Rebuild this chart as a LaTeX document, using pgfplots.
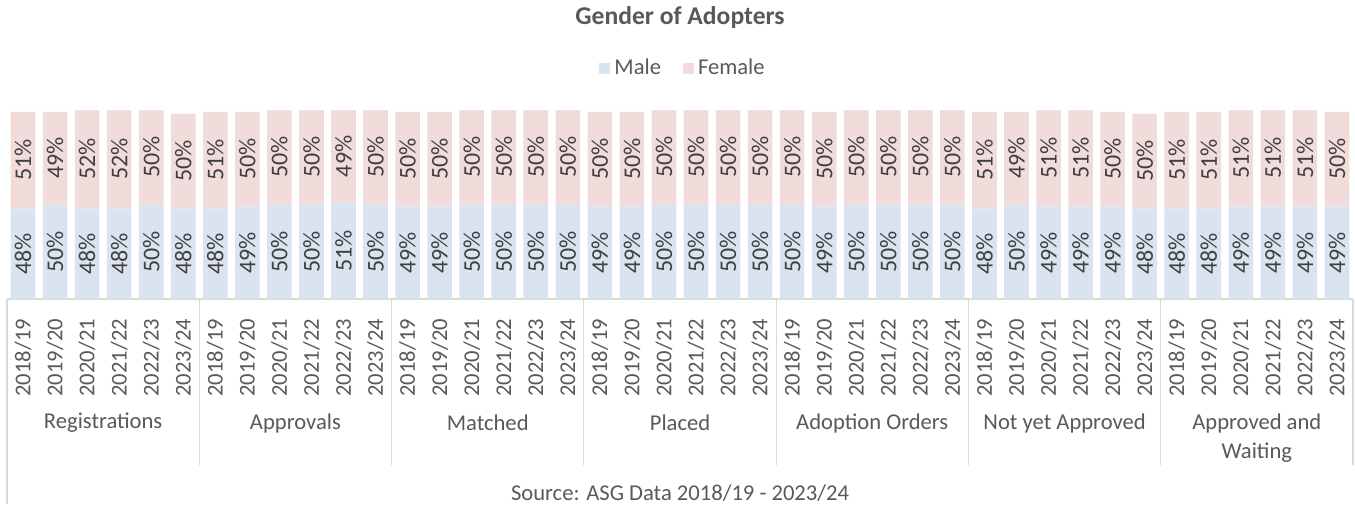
\documentclass[border=0pt]{standalone}
\usepackage{pgfplots}
\pgfplotsset{compat=1.18}
\usepackage{fontspec}
\setmainfont{Carlito}
\definecolor{male}{HTML}{DAE3F0}
\definecolor{female}{HTML}{F2DCDB}
\definecolor{txt}{HTML}{595959}
\definecolor{lbl}{HTML}{404040}
\definecolor{rule}{HTML}{D9D9D9}

\newcommand\lab{\fontsize{11.3}{14.5}\selectfont}
\newcommand\dlab{\fontsize{12}{14.5}\selectfont}

\begin{document}
\begin{tikzpicture}
\path[use as bounding box] (-3.5pt,-102.5pt) rectangle (674pt,149.5pt);
\begin{axis}[
  scale only axis, width=673pt, height=94.5pt,
  xmin=-0.5, xmax=41.5, ymin=0, ymax=100,
  enlargelimits=false, clip=false,
  ybar stacked, bar width=12.3pt,
  axis x line=bottom, axis y line=none,
  axis line style={draw=rule, line width=0.6pt, -},
  xtick=data, major tick length=0pt,
  xticklabels={2018/19,2019/20,2020/21,2021/22,2022/23,2023/24,
               2018/19,2019/20,2020/21,2021/22,2022/23,2023/24,
               2018/19,2019/20,2020/21,2021/22,2022/23,2023/24,
               2018/19,2019/20,2020/21,2021/22,2022/23,2023/24,
               2018/19,2019/20,2020/21,2021/22,2022/23,2023/24,
               2018/19,2019/20,2020/21,2021/22,2022/23,2023/24,
               2018/19,2019/20,2020/21,2021/22,2022/23,2023/24},
  xticklabel style={rotate=90, anchor=east, font=\lab, text=txt},
  xticklabel shift=6.5pt,
  visualization depends on={rawy \as \rawy},
  nodes near coords={\pgfmathprintnumber[fixed,precision=0,assume math mode=true]{\rawy}\%},
  every node near coord/.append style={anchor=center, rotate=90, font=\dlab, text=lbl},
  legend style={at={(axis description cs:0.503,1.222)}, anchor=center,
    draw=none, fill=none, font=\lab, text=txt, legend columns=-1,
    /tikz/every even column/.append style={column sep=9pt}},
  legend image code/.code={\fill[#1] (0pt,-2.75pt) rectangle (5.5pt,2.75pt);},
]
% Male
\addplot[fill=male, draw=none] coordinates {
 (0,48) (1,50) (2,48) (3,48) (4,50) (5,48)
 (6,48) (7,49) (8,50) (9,50) (10,51) (11,50)
 (12,49) (13,49) (14,50) (15,50) (16,50) (17,50)
 (18,49) (19,49) (20,50) (21,50) (22,50) (23,50)
 (24,50) (25,49) (26,50) (27,50) (28,50) (29,50)
 (30,48) (31,50) (32,49) (33,49) (34,49) (35,48)
 (36,48) (37,48) (38,49) (39,49) (40,49) (41,49)
};
% Female
\addplot[fill=female, draw=none] coordinates {
 (0,51) (1,49) (2,52) (3,52) (4,50) (5,50)
 (6,51) (7,50) (8,50) (9,50) (10,49) (11,50)
 (12,50) (13,50) (14,50) (15,50) (16,50) (17,50)
 (18,50) (19,50) (20,50) (21,50) (22,50) (23,50)
 (24,50) (25,50) (26,50) (27,50) (28,50) (29,50)
 (30,51) (31,49) (32,51) (33,51) (34,50) (35,50)
 (36,51) (37,51) (38,51) (39,51) (40,51) (41,50)
};
\legend{Male,Female}

% category box
\draw[rule, line width=0.6pt] (axis cs:-0.5,0) -- ++(0pt,-102.5pt);
\draw[rule, line width=0.6pt] (axis cs:5.5,0) -- ++(0pt,-83pt);
\draw[rule, line width=0.6pt] (axis cs:11.5,0) -- ++(0pt,-83pt);
\draw[rule, line width=0.6pt] (axis cs:17.5,0) -- ++(0pt,-83pt);
\draw[rule, line width=0.6pt] (axis cs:23.5,0) -- ++(0pt,-83pt);
\draw[rule, line width=0.6pt] (axis cs:29.5,0) -- ++(0pt,-83pt);
\draw[rule, line width=0.6pt] (axis cs:35.5,0) -- ++(0pt,-83pt);
\draw[rule, line width=0.6pt] (axis cs:41.5,0) -- ++(0pt,-83pt);
\node[font=\lab, text=txt] at ([yshift=-62pt]axis cs:2.5,0) {Registrations};
\node[font=\lab, text=txt] at ([yshift=-62pt]axis cs:8.5,0) {Approvals};
\node[font=\lab, text=txt] at ([yshift=-62pt]axis cs:14.5,0) {Matched};
\node[font=\lab, text=txt] at ([yshift=-62pt]axis cs:20.5,0) {Placed};
\node[font=\lab, text=txt] at ([yshift=-62pt]axis cs:26.5,0) {Adoption Orders};
\node[font=\lab, text=txt] at ([yshift=-62pt]axis cs:32.5,0) {Not yet Approved};
\node[font=\lab, text=txt, align=center] at ([yshift=-69.5pt]axis cs:38.5,0) {Approved and\\Waiting};

\node[font=\fontsize{12.8}{15}\selectfont\bfseries, text=txt] at (336.5pt,140.5pt) {Gender of Adopters};
\node[font=\lab, text=txt] at (336.5pt,-97pt) {Source: ASG Data 2018/19 - 2023/24};
\end{axis}
\end{tikzpicture}
\end{document}
